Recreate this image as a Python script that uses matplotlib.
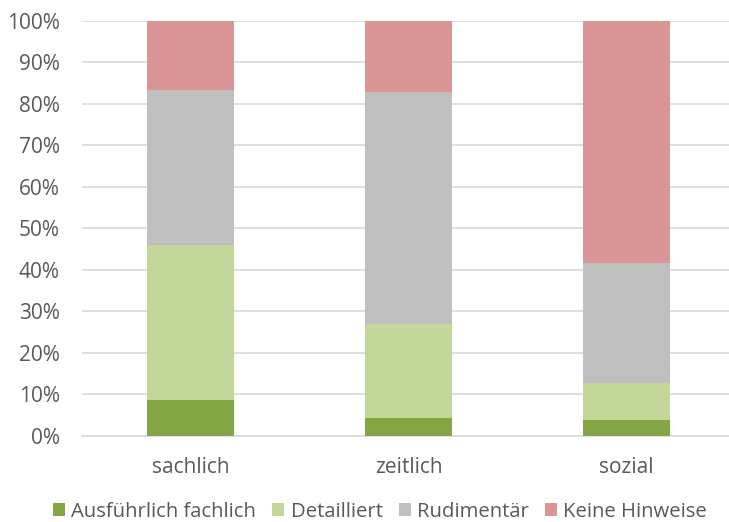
import matplotlib
matplotlib.use("Agg")
import matplotlib.pyplot as plt
import numpy as np

categories = ["sachlich", "zeitlich", "sozial"]
series_names = ["Ausführlich fachlich", "Detailliert", "Rudimentär", "Keine Hinweise"]
ausfuehrlich = [8.7, 4.3, 3.8]
detailliert = [37.3, 22.5, 9.0]
rudimentaer = [37.2, 56.0, 28.7]
keine = [16.8, 17.2, 58.5]
colors = ["#84A543", "#C4D79B", "#BFBFBF", "#DA9694"]
yticks = [0, 10, 20, 30, 40, 50, 60, 70, 80, 90, 100]

plt.rcParams['font.family'] = ['Open Sans', 'DejaVu Sans']
W, H = 729, 522
fig = plt.figure(figsize=(W / 100, H / 100), dpi=100)
left = 82 / W
bottom = (H - 435.7) / H
top = (H - 20.7) / H
ax = fig.add_axes([left, bottom, 1.0 - left, top - bottom])

x = np.arange(len(categories))
series = [ausfuehrlich, detailliert, rudimentaer, keine]
base = np.zeros(len(categories))
handles = []
for name, vals, c in zip(series_names, series, colors):
    b = ax.bar(x, vals, width=0.4, bottom=base, color=c, label=name, zorder=3)
    handles.append(b)
    base += np.array(vals)

ax.set_xlim(-0.5, 2.47)
ax.set_ylim(0, 100)
ax.set_yticks(yticks)
ax.set_yticklabels([f"{v}%" for v in yticks])
ax.set_xticks(x)
ax.set_xticklabels(categories)
ax.yaxis.grid(True, color="#D9D9D9", linewidth=1.2, zorder=0)
ax.set_axisbelow(True)
for s in ["top", "right", "left"]:
    ax.spines[s].set_visible(False)
ax.spines["bottom"].set_color("#D9D9D9")
ax.spines["bottom"].set_linewidth(1.2)
ax.tick_params(axis="both", length=0, labelsize=15, colors="#595959")
ax.tick_params(axis="y", pad=16)
ax.tick_params(axis="x", pad=15)

leg = fig.legend(handles=handles, labels=series_names, loc="center",
                 bbox_to_anchor=(380 / W, 1 - 512 / H), ncol=4, frameon=False,
                 fontsize=14.6, handlelength=0.6, handleheight=0.6,
                 handletextpad=0.3, columnspacing=0.8, labelcolor="#595959",
                 borderpad=0.1)

fig.savefig("out.png", dpi=100)
